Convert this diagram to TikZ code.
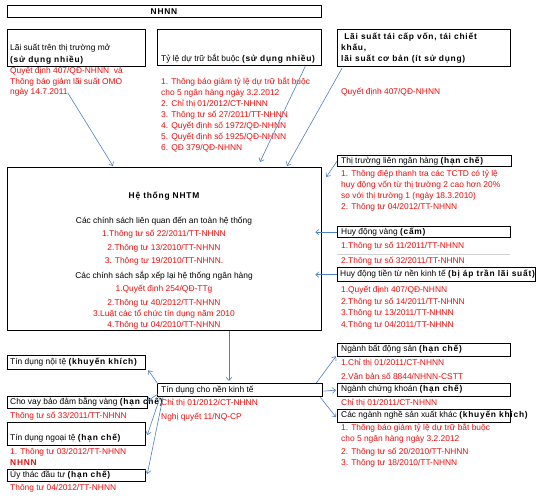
\documentclass[tikz,border=0pt]{standalone}
\usepackage{fontspec}
\setmainfont{Liberation Sans}
\usetikzlibrary{arrows.meta,calc}
\definecolor{redtxt}{RGB}{232,16,16}
\definecolor{arrblue}{RGB}{79,129,189}
\newcommand\bsp[1]{{\bfseries\addfontfeature{LetterSpace=9}#1}}
\begin{document}
\begin{tikzpicture}[x=1pt,y=-1pt,
  bx/.style={draw, line width=1.3pt, inner sep=0pt, anchor=north west, fill=white},
  t/.style={anchor=base west, inner sep=0pt, font=\fontsize{8.4}{11}\selectfont},
  r/.style={t, text=redtxt},
  tc/.style={t, anchor=base},
  rc/.style={tc, text=redtxt},
  bf/.style={font=\fontsize{8.4}{11}\selectfont\bfseries\addfontfeature{LetterSpace=9}},
  arr/.style={draw=arrblue, line width=0.6pt, -{Straight Barb[length=3.2pt,width=5.5pt]}}
]
\useasboundingbox[fill=white] (0,0) rectangle (542,500);

% ---------- top row ----------
\node[bx, minimum width=314pt, minimum height=12pt] (nhnn) at (7,5) {};
\node[tc, bf] (nhnnt) at (164,15) {NHNN};

\node[bx, minimum width=138pt, minimum height=37pt] (omo) at (7,29) {};
\node[t] (omo1) at (10,51) {Lãi suất trên thị trường mở};
\node[t] (omo2) at (10,63) {\bsp{(sử dụng nhiều)}};
\node[r] (omor1) at (10,74) {Quyết định 407/QĐ-NHNN\ \ và};
\node[r] (omor2) at (10,85) {Thông báo giảm lãi suất OMO};
\node[r] (omor3) at (10,95) {ngày 14.7.2011};

\node[bx, minimum width=164pt, minimum height=36pt] (dtbb) at (157,29) {};
\node[t] (dtbbt) at (161,62) {Tỷ lệ dự trữ bắt buộc \bsp{(sử dụng nhiều)}};
\node[r] (dt1) at (161,85) {1. Thông báo giảm tỷ lệ dự trữ bắt buộc};
\node[r] (dt2) at (161,96) {cho 5 ngân hàng ngày 3.2.2012};
\node[r] (dt3) at (161,107) {2. Chỉ thị 01/2012/CT-NHNN};
\node[r] (dt4) at (161,118) {3. Thông tư số 27/2011/TT-NHNN};
\node[r] (dt5) at (161,129) {4. Quyết định số 1972/QĐ-NHNN};
\node[r] (dt6) at (161,140) {5. Quyết định số 1925/QĐ-NHNN};
\node[r] (dt7) at (161,151) {6. QĐ 379/QĐ-NHNN};

\node[bx, minimum width=173pt, minimum height=37pt] (tcv) at (337,29) {};
\node[t, bf] (tcv1) at (341,40) {\ Lãi suất tái cấp vốn, tái chiết};
\node[t, bf] (tcv2) at (341,51) {khấu,};
\node[t, bf] (tcv3) at (341,62) {lãi suất cơ bản (ít sử dụng)};
\node[r] (tcvr) at (341,95) {Quyết định 407/QĐ-NHNN};

% ---------- NHTM ----------
\node[bx, minimum width=314pt, minimum height=163pt] (nhtm) at (7,167) {};
\node[tc, bf] (nh0) at (164,199) {Hệ thống NHTM};
\node[tc] (nh1) at (164,224) {Các chính sách liên quan đến an toàn hệ thống};
\node[rc] (nh2) at (164,237) {1.Thông tư số 22/2011/TT-NHNN};
\node[rc] (nh3) at (164,251) {2.Thông tư 13/2010/TT-NHNN};
\node[rc] (nh4) at (164,264) {3. Thông tư 19/2010/TT-NHNN.};
\node[tc] (nh5) at (164,279) {Các chính sách sắp xếp lại hệ thống ngân hàng};
\node[rc] (nh6) at (164,292) {1.Quyết định 254/QĐ-TTg};
\node[rc] (nh7) at (164,306) {2.Thông tư 40/2012/TT-NHNN};
\node[rc] (nh8) at (164,317) {3.Luật các tổ chức tín dụng năm 2010};
\node[rc] (nh9) at (164,328) {4.Thông tư 04/2010/TT-NHNN};

% ---------- right column ----------
\node[bx, minimum width=174pt, minimum height=11pt] (lnh) at (337,155) {};
\node[t] (lnht) at (341,164) {Thị trường liên ngân hàng \bsp{(hạn chế)}};
\node[r] (ln1) at (341,177) {1. Thông điệp thanh tra các TCTD có tỷ lệ};
\node[r] (ln2) at (341,188) {huy động vốn từ thị trường 2 cao hơn 20\%};
\node[r] (ln3) at (341,199) {so với thị trường 1 (ngày 18.3.2010)};
\node[r] (ln4) at (341,210) {2. Thông tư 04/2012/TT-NHNN};

\draw[gray!35, line width=0.5pt] (337,254) -- (510,254);
\node[bx, minimum width=173pt, minimum height=11pt] (hdv) at (337,226) {};
\node[t] (hdvt) at (341,235) {Huy động vàng \bsp{(cấm)}};
\node[r] (hv1) at (341,249) {1.Thông tư số 11/2011/TT-NHNN};
\node[r] (hv2) at (341,264) {2.Thông tư số 32/2011/TT-NHNN};

\node[bx, minimum width=198pt, minimum height=14pt] (hdt) at (337,267) {};
\node[t] (hdtt) at (340,277) {Huy động tiền từ nền kinh tế \bsp{(bị áp trần lãi suất)}};
\node[r] (ht1) at (341,293) {1.Quyết định 407/QĐ-NHNN};
\node[r] (ht2) at (341,305) {2.Thông tư số 14/2011/TT-NHNN};
\node[r] (ht3) at (341,316) {3.Thông tư 13/2011/TT-NHNN};
\node[r] (ht4) at (341,328) {4.Thông tư 04/2011/TT-NHNN};

% ---------- bottom right ----------
\node[bx, minimum width=173pt, minimum height=13pt] (bds) at (337,343) {};
\node[t] (bdst) at (341,352) {Ngành bất động sản \bsp{(hạn chế)}};
\node[r] (bd1) at (341,366) {1.Chỉ thị 01/2011/CT-NHNN};
\node[r] (bd2) at (341,380) {2.Văn bản số 8844/NHNN-CSTT};

\node[bx, minimum width=173pt, minimum height=13pt] (ck) at (337,383) {};
\node[t] (ckt) at (341,392) {Ngành chứng khoán \bsp{(hạn chế)}};
\node[r] (ck1) at (341,406) {Chỉ thị 01/2011/CT-NHNN};

\node[bx, minimum width=173pt, minimum height=13pt] (khac) at (337,409) {};
\node[t] (khact) at (341,418) {Các ngành nghề sản xuất khác \bsp{(khuyến khích)}};
\node[r] (kh1) at (341,431) {1. Thông báo giảm tỷ lệ dự trữ bắt buộc};
\node[r] (kh2) at (341,442) {cho 5 ngân hàng ngày 3.2.2012};
\node[r] (kh3) at (341,455) {2. Thông tư số 20/2010/TT-NHNN};
\node[r] (kh4) at (341,466) {3. Thông tư 18/2010/TT-NHNN};

% ---------- bottom left ----------
\node[bx, minimum width=138pt, minimum height=14pt] (noite) at (7,355) {};
\node[t] (noitet) at (10,365) {Tín dụng nội tệ \bsp{(khuyến khích)}};

\node[bx, minimum width=140pt, minimum height=12pt] (vang) at (7,396) {};
\node[t] (vangt) at (10,405) {Cho vay bảo đảm bằng vàng \bsp{(hạn chế)}};
\node[r] (vang1) at (10,419) {Thông tư số 33/2011/TT-NHNN};

\node[bx, minimum width=138pt, minimum height=23pt] (ngoaite) at (7,422) {};
\node[t] (ngoaitet) at (10,441) {Tín dụng ngoại tệ \bsp{(hạn chế)}};
\node[r] (nt1) at (10,455) {1. Thông tư 03/2012/TT-NHNN};
\node[r, bf] (nt2) at (10,465) {NHNN};

\node[bx, minimum width=138pt, minimum height=12pt] (uythac) at (7,469) {};
\node[t] (uythact) at (10,478) {Ủy thác đầu tư \bsp{(hạn chế)}};
\node[r] (ut1) at (10,490) {Thông tư 04/2012/TT-NHNN};

% ---------- centre bottom ----------
\node[bx, minimum width=165pt, minimum height=13pt] (tdkt) at (157,383) {};
\node[t] (tdktt) at (161,393) {Tín dụng cho nền kinh tế};
\node[r] (td1) at (161,406) {Chỉ thị 01/2012/CT-NHNN};
\node[r] (td2) at (161,420) {Nghị quyết 11/NQ-CP};

% ---------- connectors ----------
\draw[arr] (omor3.east) -- ([xshift=106pt,yshift=1pt]nhtm.north west);
\draw[arr] ([xshift=-17pt]dtbb.south east) -- ([xshift=253pt,yshift=5pt]nhtm.north west);
\draw[arr] ([xshift=5pt,yshift=-1pt]tcv.south west) -- ([xshift=280pt,yshift=1pt]nhtm.north west);
\draw[arr] (lnh.west) -- ([xshift=4pt,yshift=-10pt]nhtm.north east);
\draw[arr] (hdv.west) -- ($(nhtm.east |- hdv.west)+(-7pt,0)$);
\draw[arr] (hdt.west) -- ($(nhtm.east |- hdt.west)+(-7pt,0)$);
\draw[arr] ([xshift=222pt]nhtm.south west) -- ([xshift=72pt,yshift=2pt]tdkt.north west);
\draw[arr] ([xshift=1pt,yshift=-1pt]tdkt.north west) -- ([xshift=2pt]noite.south east);
\draw[arr] ([xshift=1pt,yshift=-11pt]tdkt.north west) -- ([xshift=-1pt,yshift=-5pt]vang.north east);
\draw[arr] ([xshift=3pt]tdkt.south west) -- ([xshift=1pt,yshift=-13pt]ngoaite.north east);
\draw[arr] ([xshift=6pt]tdkt.south west) -- ([xshift=1pt,yshift=-5pt]uythac.north east);
\draw[arr] ([xshift=-7pt]tdkt.north east) -- ([xshift=-1pt,yshift=1pt]bds.south west);
\draw[arr] ([yshift=-1pt]tdkt.east) -- ([xshift=-1pt]ck.west);
\draw[arr] ([xshift=-3pt]tdkt.south east) -- ([xshift=-1pt,yshift=-1pt]khac.west);
\end{tikzpicture}
\end{document}
